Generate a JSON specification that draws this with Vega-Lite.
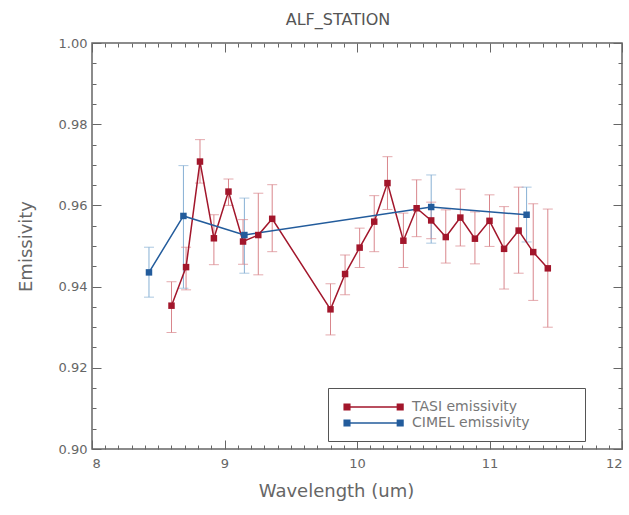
{
  "$schema": "https://vega.github.io/schema/vega-lite/v6.json",
  "width": 530,
  "height": 406,
  "autosize": "none",
  "padding": {"left": 92, "top": 43, "right": 7, "bottom": 66},
  "background": "white",
  "title": {"text": "ALF_STATION", "fontSize": 16, "font": "DejaVu Sans", "fontWeight": "normal", "color": "#555", "offset": 9, "dx": -19},
  "config": {
    "view": {"stroke": "#666", "strokeWidth": 1.5},
    "axis": {"domain": false, "grid": false, "labelFont": "DejaVu Sans", "labelColor": "#666", "labelFontSize": 13, "titleFont": "DejaVu Sans", "titleColor": "#666", "titleFontSize": 18, "titleFontWeight": "normal", "tickColor": "#666", "labelOverlap": false}
  },
  "data": {"values": [
    {"series": "TASI emissivity", "w": 8.60, "e": 0.9353, "lo": 0.9287, "hi": 0.9412},
    {"series": "TASI emissivity", "w": 8.71, "e": 0.9448, "lo": 0.9392, "hi": 0.9497},
    {"series": "TASI emissivity", "w": 8.815, "e": 0.9708, "lo": 0.9655, "hi": 0.9762},
    {"series": "TASI emissivity", "w": 8.92, "e": 0.9519, "lo": 0.9454, "hi": 0.9577},
    {"series": "TASI emissivity", "w": 9.03, "e": 0.9634, "lo": 0.9600, "hi": 0.9665},
    {"series": "TASI emissivity", "w": 9.14, "e": 0.9511, "lo": 0.9455, "hi": 0.9565},
    {"series": "TASI emissivity", "w": 9.255, "e": 0.9527, "lo": 0.9429, "hi": 0.9630},
    {"series": "TASI emissivity", "w": 9.36, "e": 0.9567, "lo": 0.9486, "hi": 0.9651},
    {"series": "TASI emissivity", "w": 9.80, "e": 0.9344, "lo": 0.9281, "hi": 0.9407},
    {"series": "TASI emissivity", "w": 9.91, "e": 0.9431, "lo": 0.9380, "hi": 0.9478},
    {"series": "TASI emissivity", "w": 10.02, "e": 0.9496, "lo": 0.9447, "hi": 0.9544},
    {"series": "TASI emissivity", "w": 10.13, "e": 0.9560, "lo": 0.9486, "hi": 0.9624},
    {"series": "TASI emissivity", "w": 10.23, "e": 0.9655, "lo": 0.9590, "hi": 0.9720},
    {"series": "TASI emissivity", "w": 10.35, "e": 0.9513, "lo": 0.9447, "hi": 0.9581},
    {"series": "TASI emissivity", "w": 10.45, "e": 0.9593, "lo": 0.9523, "hi": 0.9663},
    {"series": "TASI emissivity", "w": 10.56, "e": 0.9563, "lo": 0.9518, "hi": 0.9608},
    {"series": "TASI emissivity", "w": 10.67, "e": 0.9522, "lo": 0.9458, "hi": 0.9589},
    {"series": "TASI emissivity", "w": 10.78, "e": 0.9570, "lo": 0.9500, "hi": 0.9640},
    {"series": "TASI emissivity", "w": 10.89, "e": 0.9518, "lo": 0.9456, "hi": 0.9584},
    {"series": "TASI emissivity", "w": 11.00, "e": 0.9562, "lo": 0.9499, "hi": 0.9626},
    {"series": "TASI emissivity", "w": 11.11, "e": 0.9493, "lo": 0.9394, "hi": 0.9597},
    {"series": "TASI emissivity", "w": 11.22, "e": 0.9538, "lo": 0.9433, "hi": 0.9645},
    {"series": "TASI emissivity", "w": 11.33, "e": 0.9485, "lo": 0.9366, "hi": 0.9604},
    {"series": "TASI emissivity", "w": 11.44, "e": 0.9445, "lo": 0.9300, "hi": 0.9591},
    {"series": "CIMEL emissivity", "w": 8.43, "e": 0.9435, "lo": 0.9374, "hi": 0.9497},
    {"series": "CIMEL emissivity", "w": 8.69, "e": 0.9574, "lo": 0.9396, "hi": 0.9698},
    {"series": "CIMEL emissivity", "w": 9.15, "e": 0.9527, "lo": 0.9433, "hi": 0.9618},
    {"series": "CIMEL emissivity", "w": 10.56, "e": 0.9596, "lo": 0.9507, "hi": 0.9675},
    {"series": "CIMEL emissivity", "w": 11.28, "e": 0.9577, "lo": 0.9510, "hi": 0.9645}
  ]},
  "layer": [
    {
      "mark": {"type": "rule", "strokeWidth": 1},
      "encoding": {
        "x": {"field": "w", "type": "quantitative", "scale": {"domain": [8, 12], "nice": false, "zero": false},
          "axis": {"orient": "bottom", "title": "Wavelength (um)", "titleX": 244, "titlePadding": 7,
            "values": [8,8.1,8.2,8.3,8.4,8.5,8.6,8.7,8.8,8.9,9,9.1,9.2,9.3,9.4,9.5,9.6,9.7,9.8,9.9,10,10.1,10.2,10.3,10.4,10.5,10.6,10.7,10.8,10.9,11,11.1,11.2,11.3,11.4,11.5,11.6,11.7,11.8,11.9,12],
            "labelExpr": "abs(datum.value - round(datum.value)) < 0.001 ? format(datum.value, 'd') : ''",
            "tickSize": {"condition": {"test": "abs(datum.value - round(datum.value)) < 0.001", "value": -9}, "value": -4},
            "labelPadding": 17}},
        "y": {"field": "lo", "type": "quantitative", "scale": {"domain": [0.9, 1.0], "nice": false, "zero": false},
          "axis": {"orient": "left", "title": "Emissivity", "titlePadding": 23,
            "values": [0.9,0.905,0.91,0.915,0.92,0.925,0.93,0.935,0.94,0.945,0.95,0.955,0.96,0.965,0.97,0.975,0.98,0.985,0.99,0.995,1.0],
            "labelExpr": "abs(datum.value*50 - round(datum.value*50)) < 0.01 ? format(datum.value, '.2f') : ''",
            "tickSize": {"condition": {"test": "abs(datum.value*50 - round(datum.value*50)) < 0.01", "value": -9}, "value": -4},
            "labelPadding": 14}},
        "y2": {"field": "hi"},
        "color": {"condition": {"test": "datum.series === 'TASI emissivity'", "value": "#d9868c"}, "value": "#87b0d4"}
      }
    },
    {
      "mark": {"type": "tick", "orient": "horizontal", "size": 10, "thickness": 1},
      "encoding": {
        "x": {"field": "w", "type": "quantitative", "scale": {"domain": [8, 12], "nice": false, "zero": false},
          "axis": {"orient": "top", "title": null, "labels": false,
            "values": [8,8.1,8.2,8.3,8.4,8.5,8.6,8.7,8.8,8.9,9,9.1,9.2,9.3,9.4,9.5,9.6,9.7,9.8,9.9,10,10.1,10.2,10.3,10.4,10.5,10.6,10.7,10.8,10.9,11,11.1,11.2,11.3,11.4,11.5,11.6,11.7,11.8,11.9,12],
            "tickSize": {"condition": {"test": "abs(datum.value - round(datum.value)) < 0.001", "value": -9}, "value": -4}}},
        "y": {"field": "lo", "type": "quantitative", "scale": {"domain": [0.9, 1.0], "nice": false, "zero": false},
          "axis": {"orient": "right", "title": null, "labels": false,
            "values": [0.9,0.905,0.91,0.915,0.92,0.925,0.93,0.935,0.94,0.945,0.95,0.955,0.96,0.965,0.97,0.975,0.98,0.985,0.99,0.995,1.0],
            "tickSize": {"condition": {"test": "abs(datum.value*50 - round(datum.value*50)) < 0.01", "value": -9}, "value": -4}}},
        "color": {"condition": {"test": "datum.series === 'TASI emissivity'", "value": "#d9868c"}, "value": "#87b0d4"}
      }
    },
    {
      "mark": {"type": "tick", "orient": "horizontal", "size": 10, "thickness": 1},
      "encoding": {
        "x": {"field": "w", "type": "quantitative", "axis": null},
        "y": {"field": "hi", "type": "quantitative", "axis": null},
        "color": {"condition": {"test": "datum.series === 'TASI emissivity'", "value": "#d9868c"}, "value": "#87b0d4"}
      }
    },
    {
      "mark": {"type": "line", "strokeWidth": 1.5},
      "encoding": {
        "x": {"field": "w", "type": "quantitative", "axis": null},
        "y": {"field": "e", "type": "quantitative", "axis": null},
        "color": {"field": "series", "type": "nominal",
          "scale": {"domain": ["TASI emissivity", "CIMEL emissivity"], "range": ["#a2162b", "#235c9c"]},
          "legend": {"orient": "none", "legendX": 236, "legendY": 345, "padding": 11,
            "title": "\u00a0", "titleOrient": "right", "titlePadding": 44, "titleFontSize": 10,
            "strokeColor": "#555", "fillColor": "white",
            "symbolType": "M0,0H7.6M-0.4,-0.4H0.4V0.4H-0.4ZM7.2,-0.4H8V0.4H7.2Z",
            "symbolSize": 196, "symbolStrokeWidth": 1.5, "labelOffset": 57, "rowPadding": 1,
            "labelFont": "DejaVu Sans", "labelFontSize": 14, "labelColor": "#777", "labelLimit": 400,
            "encode": {"symbols": {"update": {"stroke": {"scale": "color", "field": "value"}, "fill": {"scale": "color", "field": "value"}, "opacity": {"value": 1}}}}}}
      }
    },
    {
      "mark": {"type": "point", "shape": "square", "filled": true, "size": 42, "opacity": 1},
      "encoding": {
        "x": {"field": "w", "type": "quantitative", "axis": null},
        "y": {"field": "e", "type": "quantitative", "axis": null},
        "color": {"field": "series", "type": "nominal",
          "scale": {"domain": ["TASI emissivity", "CIMEL emissivity"], "range": ["#a2162b", "#235c9c"]},
          "legend": {"orient": "none", "legendX": 236, "legendY": 345, "padding": 11,
            "title": "\u00a0", "titleOrient": "right", "titlePadding": 44, "titleFontSize": 10,
            "strokeColor": "#555", "fillColor": "white",
            "symbolType": "M0,0H7.6M-0.4,-0.4H0.4V0.4H-0.4ZM7.2,-0.4H8V0.4H7.2Z",
            "symbolSize": 196, "symbolStrokeWidth": 1.5, "labelOffset": 57, "rowPadding": 1,
            "labelFont": "DejaVu Sans", "labelFontSize": 14, "labelColor": "#777", "labelLimit": 400,
            "encode": {"symbols": {"update": {"stroke": {"scale": "color", "field": "value"}, "fill": {"scale": "color", "field": "value"}, "opacity": {"value": 1}}}}}}
      }
    }
  ],
  "resolve": {"axis": {"x": "independent", "y": "independent"}}
}
